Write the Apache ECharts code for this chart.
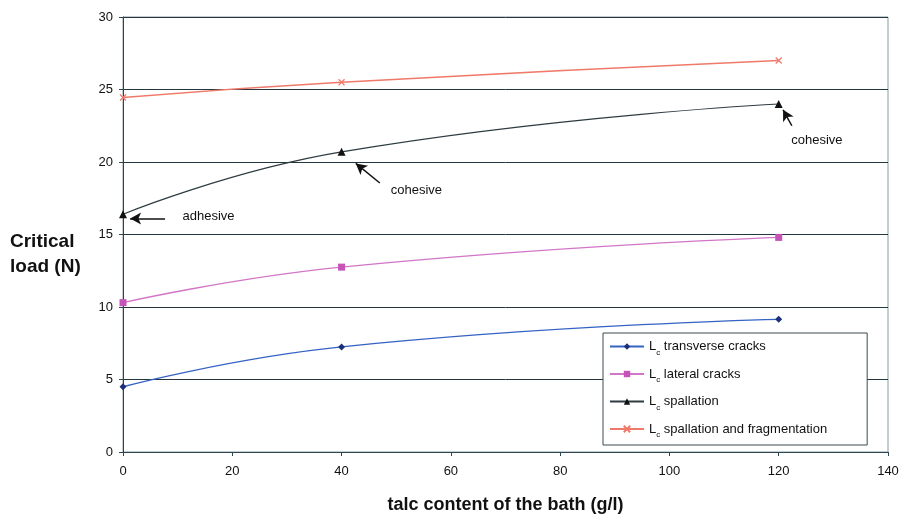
<!DOCTYPE html>
<html><head><meta charset="utf-8">
<script src="https://cdn.jsdelivr.net/npm/echarts@6/dist/echarts.min.js"></script>
<style>html,body{margin:0;padding:0;background:#fff}#c{width:906px;height:520px}</style>
</head><body><div id="c"></div>
<script>
const xValues = [0, 40, 120];
const transverse = [4.5, 7.25, 9.15];
const lateral = [10.3, 12.75, 14.8];
const spallation = [16.4, 20.7, 24.0];
const fragmentation = [24.45, 25.5, 27.0];
const seriesNames = ['transverse cracks', 'lateral cracks', 'spallation', 'spallation and fragmentation'];
const xTicks = [0, 20, 40, 60, 80, 100, 120, 140];
const yTicks = [0, 5, 10, 15, 20, 25, 30];

const FONT = 'Liberation Sans, Arial, sans-serif';
const pts = arr => xValues.map((x, i) => [x, arr[i]]);
const crossPath = 'path://M0,0L10,10M10,0L0,10';

const chart = echarts.init(document.getElementById('c'));
const arrowLine = (from, to) => [{coord: from, symbol: 'none'}, {coord: to, symbol: 'arrow'}];
chart.setOption({
  animation: false,
  textStyle: {fontFamily: FONT},
  grid: {left: 123, right: 18, top: 17, bottom: 68, show: true, borderColor: '#8a9aa0', borderWidth: 1},
  xAxis: {
    type: 'value', min: 0, max: 140, interval: 20,
    name: 'talc content of the bath (g/l)', nameLocation: 'middle', nameGap: 44,
    nameTextStyle: {fontSize: 18, fontWeight: 'bold', color: '#111', fontFamily: FONT},
    axisLine: {show: true, lineStyle: {color: '#2c4650', width: 1}},
    axisTick: {show: true, length: 4, lineStyle: {color: '#2c4650'}},
    axisLabel: {fontSize: 13, color: '#111', margin: 13, formatter: v => xTicks.includes(v) ? String(v) : ''},
    splitLine: {show: false}
  },
  yAxis: {
    type: 'value', min: 0, max: 30, interval: 5,
    axisLine: {show: true, lineStyle: {color: '#2c4650', width: 1}},
    axisTick: {show: true, length: 4, lineStyle: {color: '#2c4650'}},
    axisLabel: {fontSize: 13, color: '#111', margin: 10, formatter: v => yTicks.includes(v) ? String(v) : ''},
    splitLine: {show: true, lineStyle: {color: '#24363e', width: 1}}
  },
  graphic: [{
    type: 'text', left: 10, top: 229,
    style: {text: 'Critical\nload (N)', font: 'bold 19px ' + FONT, fill: '#111', lineHeight: 25}
  }],
  legend: {
    orient: 'vertical', left: 603, top: 333,
    padding: [7, 40, 6, 6], itemGap: 11,
    backgroundColor: '#fff', borderColor: '#3a4a50', borderWidth: 1,
    itemWidth: 34, itemHeight: 8,
    data: seriesNames,
    formatter: name => '{a|L}{b|c}{a| ' + name + '}',
    textStyle: {
      rich: {
        a: {fontSize: 13, color: '#111', fontFamily: FONT, height: 20},
        b: {fontSize: 8, color: '#111', fontFamily: FONT, verticalAlign: 'bottom', padding: [7, 0, 0, 0]}
      }
    }
  },
  series: [
    {name: seriesNames[0], type: 'line', smooth: true, data: pts(transverse),
     symbol: 'diamond', symbolSize: 7, color: '#1c2f78',
     lineStyle: {color: '#3563c4', width: 1.3}, itemStyle: {color: '#1c2f78'}},
    {name: seriesNames[1], type: 'line', smooth: true, data: pts(lateral),
     symbol: 'rect', symbolSize: 7, color: '#c653b8',
     lineStyle: {color: '#d276c8', width: 1.3}, itemStyle: {color: '#c653b8'}},
    {name: seriesNames[2], type: 'line', smooth: true, data: pts(spallation),
     symbol: 'triangle', symbolSize: 8, color: '#111',
     lineStyle: {color: '#2e3c42', width: 1.2}, itemStyle: {color: '#111'},
     markLine: {
       silent: true, symbolSize: [9, 11],
       lineStyle: {color: '#111', width: 1.5, type: 'solid'}, label: {show: false},
       data: [arrowLine([7.7, 16.1], [1.3, 16.1]), arrowLine([47.0, 18.55], [42.6, 19.9]), arrowLine([122.4, 22.5], [120.8, 23.6])]
     },
     markPoint: {
       silent: true, symbol: 'circle', symbolSize: 0,
       label: {show: true, color: '#111', fontSize: 13, fontFamily: FONT, position: 'right', distance: 0},
       data: [
         {coord: [10.9, 16.25], value: 'adhesive', label: {formatter: 'adhesive'}},
         {coord: [49.0, 18.05], value: 'cohesive', label: {formatter: 'cohesive'}},
         {coord: [122.3, 21.5], value: 'cohesive', label: {formatter: 'cohesive'}}
       ]
     }},
    {name: seriesNames[3], type: 'line', smooth: true, data: pts(fragmentation),
     symbol: crossPath, symbolSize: 6, color: '#f07a6a',
     lineStyle: {color: '#f07a6a', width: 1.6}, itemStyle: {color: 'none', borderColor: '#f07a6a', borderWidth: 1.2}}
  ]
});
</script></body></html>
